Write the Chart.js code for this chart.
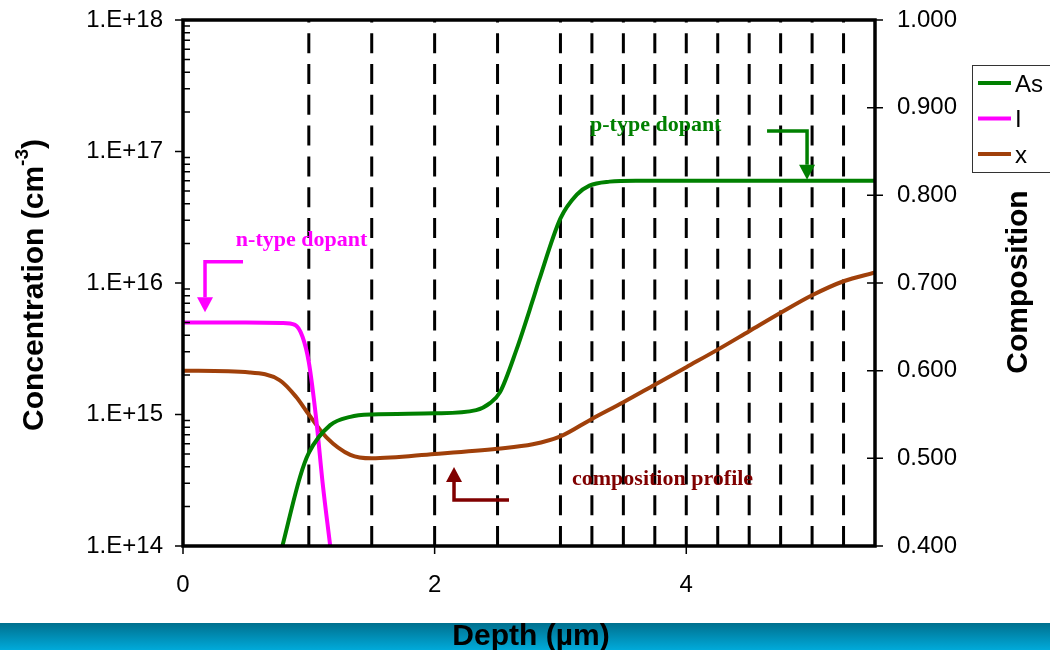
<!DOCTYPE html>
<html>
<head>
<meta charset="utf-8">
<script src="https://cdn.jsdelivr.net/npm/chart.js@4.4.0/dist/chart.umd.min.js"></script>
<style>
  body { margin: 0; background: #fff; }
  #wrap { width: 1050px; height: 650px; }
</style>
</head>
<body>
<div id="wrap"><canvas id="myChart" width="1050" height="650"></canvas></div>
<script>
// Values, depth in µm
const asDepth = [0.79, 0.93, 1.0, 1.17, 1.33, 1.5, 2.0, 2.33, 2.44, 2.52, 2.65, 2.78, 2.83, 3.0, 3.13, 3.23, 3.39, 3.6, 4.0, 5.0, 5.5];
const asConc  = [1e14, 3.35e14, 5.1e14, 8.3e14, 9.6e14, 1.0e15, 1.02e15, 1.08e15, 1.22e15, 1.48e15, 3.1e15, 7.4e15, 1.05e16, 3.1e16, 4.7e16, 5.5e16, 5.9e16, 6.0e16, 6.0e16, 6.0e16, 6.0e16];

const iDepth = [0, 0.5, 0.79, 0.89, 0.95, 1.0, 1.06, 1.11, 1.17];
const iConc  = [5e15, 5e15, 4.97e15, 4.8e15, 3.9e15, 2.5e15, 9.0e14, 3.0e14, 1e14];

const xDepth = [0, 0.53, 0.77, 0.90, 1.0, 1.14, 1.33, 1.5, 2.0, 2.5, 2.78, 3.0, 3.25, 3.5, 3.75, 4.0, 4.25, 4.5, 4.75, 5.0, 5.25, 5.5];
const xComp  = [0.600, 0.598, 0.589, 0.570, 0.550, 0.524, 0.504, 0.500, 0.505, 0.511, 0.516, 0.525, 0.545, 0.564, 0.584, 0.604, 0.624, 0.645, 0.666, 0.686, 0.702, 0.712];

// dashed vertical markers
const markerDepth = [1, 1.5, 2, 2.5, 3, 3.25, 3.5, 3.75, 4, 4.25, 4.5, 4.75, 5, 5.25];

// axis ticks
const depthTicks = [0, 2, 4];
const concTicks = [1e14, 1e15, 1e16, 1e17, 1e18];
const compTicks = [0.4, 0.5, 0.6, 0.7, 0.8, 0.9, 1.0];

const pts = (xs, ys) => xs.map((x, i) => ({ x: x, y: ys[i] }));

// minor log ticks 2..9 per decade
const minorConc = [];
concTicks.slice(0, -1).forEach(d => { for (let k = 2; k <= 9; k++) minorConc.push(d * k); });

const markerSets = markerDepth.map(d => ({
  data: [{ x: d, y: concTicks[0] }, { x: d, y: concTicks[concTicks.length - 1] }],
  borderColor: '#000',
  borderWidth: 3,
  borderDash: [20, 10.8],
  pointRadius: 0,
  yAxisID: 'y',
  order: 10,
  inLegend: false
}));

const series = [
  { label: 'As', data: pts(asDepth, asConc), borderColor: '#008000', yAxisID: 'y' },
  { label: 'I', data: pts(iDepth, iConc), borderColor: '#ff00ff', yAxisID: 'y' },
  { label: 'x', data: pts(xDepth, xComp), borderColor: '#a0400a', yAxisID: 'y2' }
].map(s => Object.assign(s, {
  borderWidth: 4,
  pointRadius: 0,
  cubicInterpolationMode: 'monotone',
  order: 0,
  inLegend: true
}));

// text notes with bent arrows, in data units
const notes = [
  { text: 'n-type dopant', color: '#ff00ff', axis: 'y', at: [0.42, 1.9e16],
    arrow: [[0.477, 1.45e16], [0.175, 1.45e16], [0.175, 6.0e15]] },
  { text: 'p-type dopant', color: '#008000', axis: 'y', at: [3.235, 1.43e17],
    arrow: [[4.642, 1.43e17], [4.96, 1.43e17], [4.96, 6.1e16]] },
  { text: 'composition profile', color: '#800000', axis: 'y2', at: [3.092, 0.4696],
    arrow: [[2.591, 0.4525], [2.154, 0.4525], [2.154, 0.490]] }
];

const SANS = '"Liberation Sans", Arial, sans-serif';
const SERIF = '"Liberation Serif", "Times New Roman", serif';

function rotatedText(ctx, x, y, parts) {
  ctx.save();
  ctx.translate(x, y);
  ctx.rotate(-Math.PI / 2);
  ctx.textBaseline = 'alphabetic';
  ctx.textAlign = 'left';
  let total = 0;
  parts.forEach(p => { ctx.font = p.font; total += ctx.measureText(p.t).width; });
  let cx = -total / 2;
  parts.forEach(p => {
    ctx.font = p.font;
    ctx.fillText(p.t, cx, p.dy || 0);
    cx += ctx.measureText(p.t).width;
  });
  ctx.restore();
}

const decor = {
  id: 'decor',
  beforeDraw(chart) {
    const ctx = chart.ctx;
    ctx.save();
    ctx.fillStyle = '#fff';
    ctx.fillRect(0, 0, chart.width, chart.height);
    const g = ctx.createLinearGradient(0, 623, 0, 650);
    g.addColorStop(0, '#00708e');
    g.addColorStop(1, '#00aada');
    ctx.fillStyle = g;
    ctx.fillRect(0, 623, chart.width, 27);
    ctx.restore();
  },
  afterDraw(chart) {
    const ctx = chart.ctx;
    const a = chart.chartArea;
    const xs = chart.scales.x, ys = chart.scales.y, y2 = chart.scales.y2;
    ctx.save();
    ctx.strokeStyle = '#000';
    ctx.lineWidth = 1.5;
    ctx.beginPath();
    // left axis: major out, minor in
    concTicks.forEach(v => { const p = ys.getPixelForValue(v); ctx.moveTo(a.left - 8, p); ctx.lineTo(a.left, p); });
    minorConc.forEach(v => { const p = ys.getPixelForValue(v); ctx.moveTo(a.left, p); ctx.lineTo(a.left + 7, p); });
    // right axis: crossing ticks
    compTicks.forEach(v => { const p = y2.getPixelForValue(v); ctx.moveTo(a.right - 8, p); ctx.lineTo(a.right + 8, p); });
    // bottom axis
    depthTicks.forEach(v => { const p = xs.getPixelForValue(v); ctx.moveTo(p, a.bottom); ctx.lineTo(p, a.bottom + 8); });
    ctx.stroke();

    ctx.lineWidth = 3.5;
    ctx.strokeRect(a.left, a.top, a.right - a.left, a.bottom - a.top);

    // notes
    notes.forEach(n => {
      const sy = chart.scales[n.axis];
      const P = n.arrow.map(q => [xs.getPixelForValue(q[0]), sy.getPixelForValue(q[1])]);
      const tip = P[P.length - 1], prev = P[P.length - 2];
      const dx = tip[0] - prev[0], dy = tip[1] - prev[1];
      const len = Math.hypot(dx, dy), ux = dx / len, uy = dy / len;
      const hl = 15, hw = 8;
      const base = [tip[0] - ux * hl, tip[1] - uy * hl];
      ctx.strokeStyle = n.color;
      ctx.fillStyle = n.color;
      ctx.lineWidth = 3.5;
      ctx.lineJoin = 'miter';
      ctx.beginPath();
      ctx.moveTo(P[0][0], P[0][1]);
      for (let i = 1; i < P.length - 1; i++) ctx.lineTo(P[i][0], P[i][1]);
      ctx.lineTo(base[0], base[1]);
      ctx.stroke();
      ctx.beginPath();
      ctx.moveTo(tip[0], tip[1]);
      ctx.lineTo(base[0] - uy * hw, base[1] + ux * hw);
      ctx.lineTo(base[0] + uy * hw, base[1] - ux * hw);
      ctx.closePath();
      ctx.fill();
      ctx.font = 'bold 22px ' + SERIF;
      ctx.textAlign = 'left';
      ctx.textBaseline = 'alphabetic';
      ctx.fillText(n.text, xs.getPixelForValue(n.at[0]), sy.getPixelForValue(n.at[1]));
    });

    // axis titles
    ctx.fillStyle = '#000';
    rotatedText(ctx, 43, 285, [
      { t: 'Concentration (cm', font: 'bold 30px ' + SANS },
      { t: '-3', font: 'bold 19px ' + SANS, dy: -15 },
      { t: ')', font: 'bold 30px ' + SANS }
    ]);
    rotatedText(ctx, 1027, 282, [{ t: 'Composition', font: 'bold 30px ' + SANS }]);
    ctx.font = 'bold 30px ' + SANS;
    ctx.textAlign = 'center';
    ctx.textBaseline = 'alphabetic';
    ctx.fillText('Depth (µm)', 531, 645);

    // legend
    const items = chart.data.datasets.filter(d => d.inLegend);
    ctx.lineWidth = 1;
    ctx.strokeStyle = '#333';
    ctx.strokeRect(972.5, 65.5, 110, 107);
    ctx.font = '24px ' + SANS;
    ctx.textAlign = 'left';
    ctx.textBaseline = 'middle';
    items.forEach((d, i) => {
      const ly = 83 + i * 35.5;
      ctx.strokeStyle = d.borderColor;
      ctx.lineWidth = 4;
      ctx.beginPath();
      ctx.moveTo(978, ly);
      ctx.lineTo(1011, ly);
      ctx.stroke();
      ctx.fillStyle = '#000';
      ctx.fillText(d.label, 1015, ly + 2);
    });
    ctx.restore();
  }
};

const noVPad = w => s => { s.width = w; s.paddingTop = 0; s.paddingBottom = 0; };

const config = {
  type: 'line',
  data: { datasets: markerSets.concat(series) },
  options: {
    responsive: false,
    animation: false,
    layout: { padding: { top: 20, left: 0, right: 0, bottom: 0 } },
    plugins: { legend: { display: false }, tooltip: { enabled: false } },
    scales: {
      x: {
        type: 'linear',
        min: 0, max: 5.5,
        grid: { display: false, drawTicks: false },
        border: { display: false },
        afterBuildTicks: s => { s.ticks = depthTicks.map(v => ({ value: v })); },
        afterFit: s => { s.height = 104; s.paddingLeft = 0; s.paddingRight = 0; },
        ticks: { color: '#000', padding: 25, font: { size: 24, family: SANS }, autoSkip: false, maxRotation: 0 }
      },
      y: {
        type: 'logarithmic',
        position: 'left',
        min: 1e14, max: 1e18,
        grid: { display: false, drawTicks: false },
        border: { display: false },
        afterBuildTicks: s => { s.ticks = concTicks.map(v => ({ value: v })); },
        afterFit: noVPad(183),
        ticks: {
          color: '#000', padding: 20, autoSkip: false,
          font: { size: 24, family: SANS },
          callback: v => '1.E+' + Math.round(Math.log10(v))
        }
      },
      y2: {
        type: 'linear',
        position: 'right',
        min: 0.4, max: 1.0,
        grid: { display: false, drawTicks: false },
        border: { display: false },
        afterBuildTicks: s => { s.ticks = compTicks.map(v => ({ value: v })); },
        afterFit: noVPad(175),
        ticks: {
          color: '#000', padding: 22, autoSkip: false,
          font: { size: 24, family: SANS },
          callback: v => v.toFixed(3)
        }
      }
    }
  },
  plugins: [decor]
};

const myChart = new Chart(document.getElementById('myChart'), config);
</script>
</body>
</html>
